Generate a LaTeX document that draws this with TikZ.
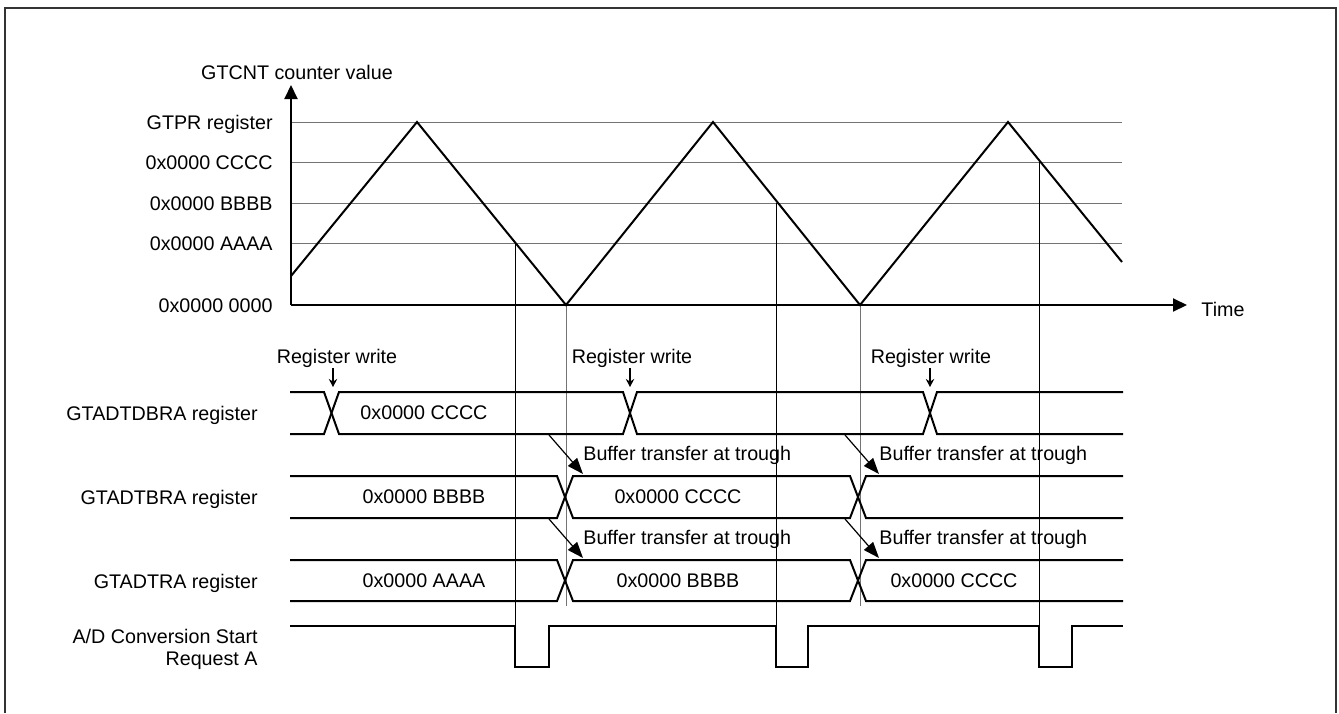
\documentclass[tikz,border=0pt]{standalone}
\usepackage{fontspec}
\setmainfont{Liberation Sans}
\usetikzlibrary{arrows.meta, positioning}

\begin{document}
\begin{tikzpicture}[x=0.5pt, y=-0.5pt, >={Triangle[length=7pt,width=6.5pt]},
    every node/.style={font=\fontsize{9.85}{11}\selectfont, inner sep=0pt, text height=7pt, text depth=0pt},
    guide/.style={draw=black!55, line width=0.5pt},
    cut/.style={draw=black, line width=0.5pt},
    wave/.style={line width=1pt, line join=miter},
    bus/.style={line width=1pt, line join=miter},
    axis/.style={->, line width=1pt},
    wr/.style={-{Stealth[length=4pt,width=4.2pt]}, line width=0.9pt},
    xfer/.style={-{Triangle[length=8pt,width=6pt]}, line width=0.6pt}]

    \useasboundingbox (0,0) rectangle (1339,713);
    \draw[line width=0.6pt, black!80] (5,713) -- (5,8) -- (1336,8) -- (1336,713);

    % counter levels
    \node (ylab) at (297,72) {GTCNT counter value};
    \node[anchor=east] (lpr) at (273,122) {GTPR register};
    \node[anchor=east] (lc) at (273,162) {0x0000 CCCC};
    \node[anchor=east] (lb) at (273,203) {0x0000 BBBB};
    \node[anchor=east] (la) at (273,243) {0x0000 AAAA};
    \node[anchor=east] (l0) at (273,305) {0x0000 0000};
    \node (tlab) at (1223,309) {Time};

    \coordinate (o) at (291,305);
    \foreach \y in {122,162,203,243}
        \draw[guide] (291,\y) -- (1122,\y);

    % compare match and trough marks
    \draw[cut] (515,243) -- (515,626);
    \draw[cut] (776,203) -- (776,626);
    \draw[cut] (1039,162) -- (1039,626);
    \draw[guide] (566,305) -- (566,606);
    \draw[guide] (860,305) -- (860,606);

    \draw[axis] (o) -- (291,85);
    \draw[axis] (o) -- (1187,305);

    \draw[wave] (291,276) -- (417,122) -- (566,305) -- (713,122)
        -- (860,305) -- (1008,122) -- (1122,262);

    % register rows
    \node[anchor=east] (rdb) at (258,413) {GTADTDBRA register};
    \node[anchor=east] (rb) at (258,497) {GTADTBRA register};
    \node[anchor=east] (rt) at (258,581) {GTADTRA register};
    \node[anchor=east, align=right] (rad) at (258,658) {A/D Conversion Start\\Request A};

    \draw[bus] (290,392) -- (324,392) -- (339,434) -- (623,434) -- (637,392)
        -- (923,392) -- (937,434) -- (1123,434);
    \draw[bus] (290,434) -- (324,434) -- (339,392) -- (623,392) -- (637,434)
        -- (923,434) -- (937,392) -- (1123,392);

    \draw[bus] (290,476) -- (557,476) -- (573,518) -- (850,518) -- (866,476) -- (1123,476);
    \draw[bus] (290,518) -- (557,518) -- (573,476) -- (850,476) -- (866,518) -- (1123,518);

    \draw[bus] (290,560) -- (557,560) -- (573,601) -- (850,601) -- (866,560) -- (1123,560);
    \draw[bus] (290,601) -- (557,601) -- (573,560) -- (850,560) -- (866,601) -- (1123,601);

    \draw[bus] (290,626) -- (515,626) -- (515,667) -- (549,667) -- (549,626)
        -- (776,626) -- (776,667) -- (808,667) -- (808,626)
        -- (1039,626) -- (1039,667) -- (1072,667) -- (1072,626) -- (1123,626);

    \node (vdb1) at (424,412) {0x0000 CCCC};
    \node (vb1) at (424,496) {0x0000 BBBB};
    \node (vb2) at (678,496) {0x0000 CCCC};
    \node (vt1) at (424,580) {0x0000 AAAA};
    \node (vt2) at (678,580) {0x0000 BBBB};
    \node (vt3) at (954,580) {0x0000 CCCC};

    % register writes
    \foreach \n/\x/\t in {1/337/333, 2/632/630, 3/931/930} {
        \node (rw\n) at (\x,356) {Register write};
        \coordinate (rw\n a) at (\t,368);
        \coordinate (rw\n b) at (\t,387);
        \draw[wr] (rw\n a) -- (rw\n b);
    }

    % buffer transfers
    \foreach \n/\x in {1/549, 2/845} {
        \coordinate (bt\n a) at (\x,435);
        \coordinate (bt\n b) at (\x+34,474);
        \coordinate (bt\n c) at (\x,519);
        \coordinate (bt\n d) at (\x+34,558);
        \draw[xfer] (bt\n a) -- (bt\n b);
        \draw[xfer] (bt\n c) -- (bt\n d);
        \node[anchor=west] (btl\n) at (\x+34,453) {Buffer transfer at trough};
        \node[anchor=west] (btm\n) at (\x+34,537) {Buffer transfer at trough};
    }
\end{tikzpicture}
\end{document}
